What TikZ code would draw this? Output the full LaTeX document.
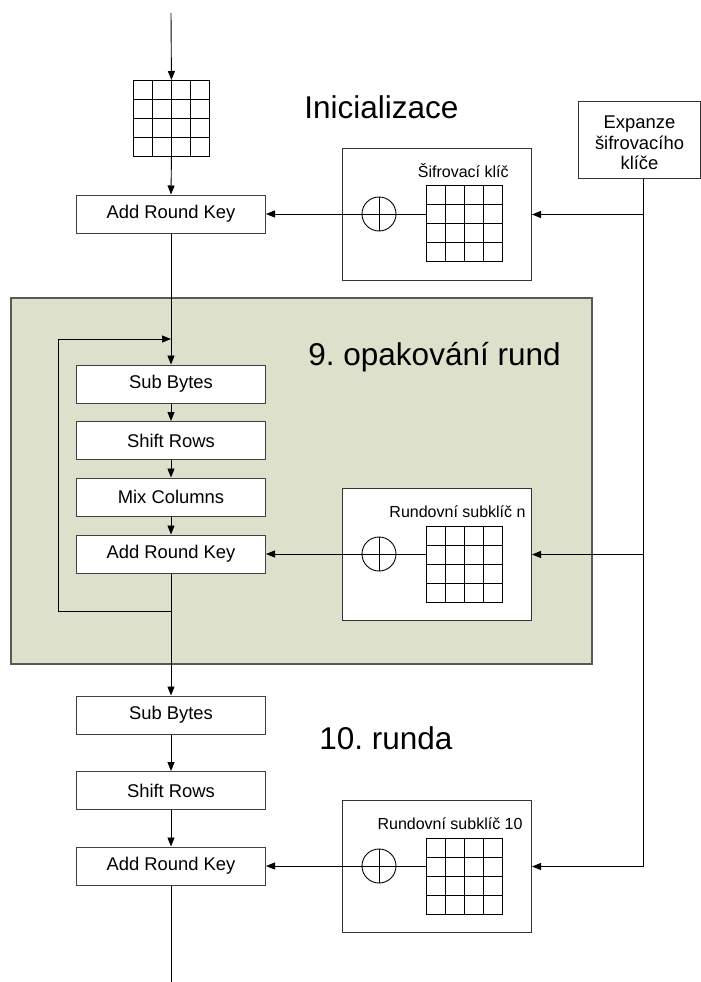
\documentclass[tikz,border=0pt]{standalone}
\usepackage{fontspec}
\setmainfont{Liberation Sans}
\usetikzlibrary{arrows.meta}
\definecolor{roundbg}{RGB}{221,224,203}
\frenchspacing

% 4x4 state matrix: name, x and y of its top-left corner
\newcommand{\statematrix}[3]{%
  \node[draw, fill=white, minimum size=76pt, inner sep=0pt, anchor=north west] (#1) at (#2,#3) {};
  \foreach \k in {19,38,57} {
    \draw (#2+\k,#3) -- (#2+\k,#3+76);
    \draw (#2,#3+\k) -- (#2+76,#3+\k);
  }%
}

\begin{document}
\begin{tikzpicture}[x=1pt, y=-1pt, line width=0.9pt,
  tip/.style={-{Triangle[length=9pt,width=7pt]}},
  stage/.style={draw=black!75, fill=white, line width=1pt, minimum width=189pt,
    minimum height=38pt, inner sep=0pt, font=\fontsize{18.4}{20.5}\selectfont},
  keyframe/.style={draw=black!80, fill=white, line width=1pt, minimum width=189pt,
    minimum height=132pt, inner sep=0pt, anchor=north west},
  xorsym/.style={draw, circle, minimum size=34pt, inner sep=0pt},
  title/.style={font=\fontsize{31.5}{36}\selectfont, anchor=base west, inner sep=0pt},
  keylabel/.style={font=\fontsize{16}{18}\selectfont, anchor=base east, inner sep=0pt}
]
\useasboundingbox (0,0) rectangle (701,982);

% repeated rounds panel
\node[draw=black!65, fill=roundbg, line width=1.5pt, minimum width=581pt,
  minimum height=366pt, inner sep=0pt, anchor=north west] (roundpanel) at (10,297) {};

% titles
\node[title] (tinit) at (304,118) {Inicializace};
\node[title] (tloop) at (308,365) {9. opakování rund};
\node[title] (tlast) at (319,749) {10. runda};

% input state
\statematrix{state}{133}{80}

% processing stages
\node[stage] (ark1) at (171,214) {Add Round Key};
\node[stage] (sb2)  at (171,384) {Sub Bytes};
\node[stage] (sr2)  at (171,440.5) {Shift Rows};
\node[stage] (mc2)  at (171,497) {Mix Columns};
\node[stage] (ark2) at (171,554) {Add Round Key};
\node[stage] (sb3)  at (171,715) {Sub Bytes};
\node[stage] (sr3)  at (171,790.5) {Shift Rows};
\node[stage] (ark3) at (171,866) {Add Round Key};

% key expansion
\node[draw=black!80, fill=white, line width=1pt, minimum width=122pt, minimum height=77pt,
  inner sep=0pt, anchor=north west,
  label={[yshift=-3pt, align=center, font=\fontsize{18.4}{20.5}\selectfont]center:{Expanze\\šifrovacího\\klíče}}]
  (expand) at (578,101) {};
\coordinate (bus) at (643,0);

% round key frames
\node[keyframe] (kb1) at (342,148) {};
\node[keyframe] (kb2) at (342,488) {};
\node[keyframe] (kb3) at (342,800) {};
\node[keylabel] (kl1) at (509,177) {Šifrovací klíč};
\node[keylabel] (kl2) at (526,517) {Rundovní subklíč n};
\node[keylabel] (kl3) at (523,829) {Rundovní subklíč 10};
\statematrix{key1}{426}{185}
\statematrix{key2}{426}{526}
\statematrix{key3}{426}{838}
\node[xorsym] (x1) at (379,214) {};
\node[xorsym] (x2) at (379,554) {};
\node[xorsym] (x3) at (379,866) {};
\foreach \i in {1,2,3} \draw (x\i.north) -- (x\i.south);

% key paths into the round key stages
\draw[tip] (key1.west |- x1) -- (ark1.east);
\draw[tip] (key2.west |- x2) -- (ark2.east);
\draw[tip] (key3.west |- x3) -- (ark3.east);

% key distribution bus
\draw[tip] (expand.south -| bus) |- (kb3.east);
\draw[tip] (bus |- kb1.east) -- (kb1.east);
\draw[tip] (bus |- kb2.east) -- (kb2.east);

% data path
\coordinate (din) at (171,13);
\coordinate (loopin) at (171,339);
\coordinate (loopout) at (171,611);
\coordinate (dout) at (171,982);
\draw[tip] (din) -- (state.north);
\draw[tip] (state.south) -- (ark1.north);
\draw[tip] (ark1.south) -- (sb2.north);
\draw[tip] (sb2.south) -- (sr2.north);
\draw[tip] (sr2.south) -- (mc2.north);
\draw[tip] (mc2.south) -- (ark2.north);
\draw[tip] (ark2.south) -- (sb3.north);
\draw[tip] (loopout) -- (58,611) |- (loopin);
\draw[tip] (sb3.south) -- (sr3.north);
\draw[tip] (sr3.south) -- (ark3.north);
\draw (ark3.south) -- (dout);
\end{tikzpicture}
\end{document}
